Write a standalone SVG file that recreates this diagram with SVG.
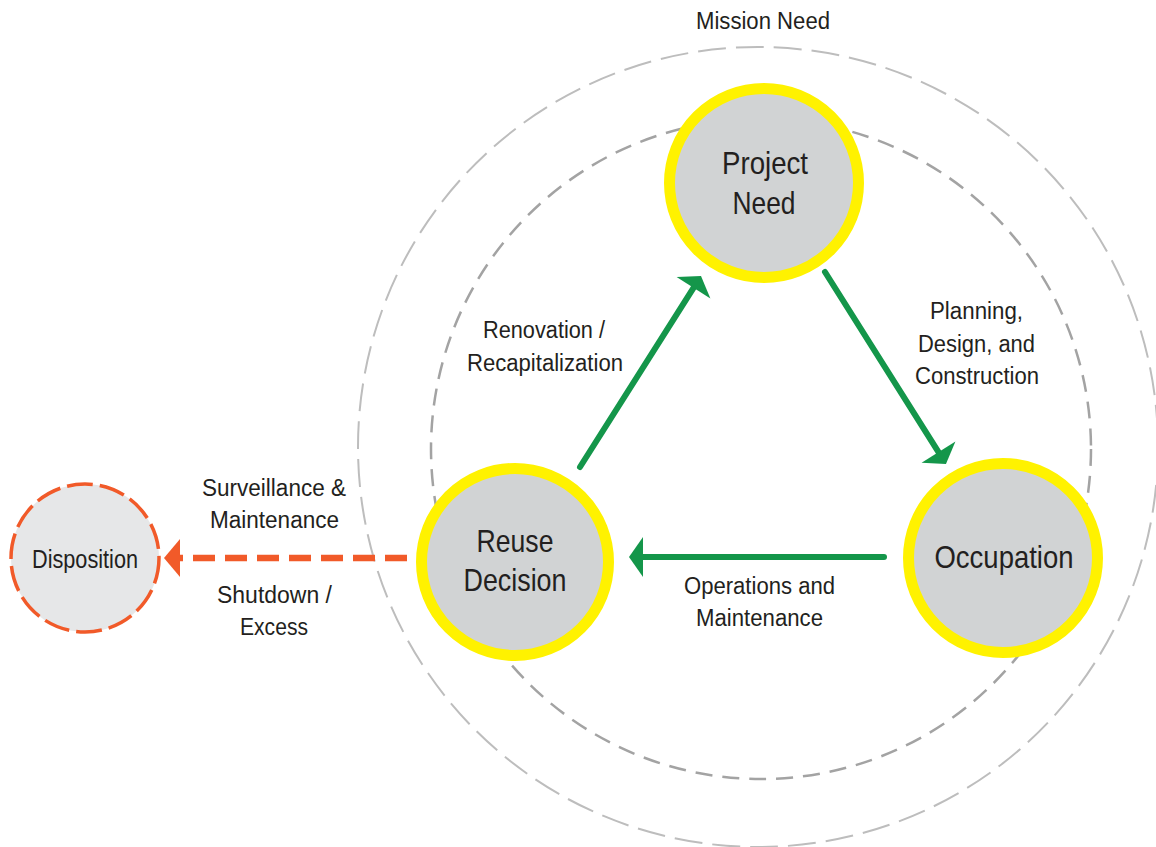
<svg xmlns="http://www.w3.org/2000/svg" width="1156" height="847" viewBox="0 0 1156 847">
  <defs>
    <style>
      text { font-family: "Liberation Sans", Arial, sans-serif; fill: #231f20; text-anchor: middle; }
      .lbl { font-size: 23px; }
      .nodeText { font-size: 30.5px; }
      .dispText { font-size: 26px; }
      .node { fill: #d1d3d4; stroke: #fff200; stroke-width: 11; }
      .disp { fill: #e6e7e8; stroke: #f15a29; stroke-width: 3.5; stroke-dasharray: 26 7; }
      .ringOuter { fill: none; stroke: #bdbdbd; stroke-width: 2; stroke-dasharray: 28 10; }
      .ringInner { fill: none; stroke: #a3a3a3; stroke-width: 2.5; stroke-dasharray: 17 10; }
      .flow { stroke: #14964a; stroke-width: 6; stroke-linecap: round; fill: none; marker-end: url(#greenHead); }
      .exit { stroke: #f15a29; stroke-width: 6.5; stroke-dasharray: 22 10; fill: none; marker-end: url(#orangeHead); }
    </style>
    <marker id="greenHead" markerUnits="userSpaceOnUse" markerWidth="16" markerHeight="42" refX="0" refY="21" orient="auto" overflow="visible">
      <path d="M0,1 L14,21 L0,41 Z" fill="#14964a"/>
    </marker>
    <marker id="orangeHead" markerUnits="userSpaceOnUse" markerWidth="18" markerHeight="40" refX="0" refY="20" orient="auto" overflow="visible">
      <path d="M0,1 L16,20 L0,39 Z" fill="#f15a29"/>
    </marker>
  </defs>

  <rect width="1156" height="847" fill="#ffffff"/>

  <g id="mission-need">
    <circle class="ringOuter" cx="758" cy="447" r="400"/>
    <text class="lbl" x="763" y="29" textLength="134" lengthAdjust="spacingAndGlyphs">Mission Need</text>
  </g>
  <g id="lifecycle-ring">
    <circle class="ringInner" cx="761" cy="449" r="330"/>
  </g>

  <g id="project-need">
    <circle class="node" cx="764" cy="183" r="94.5"/>
    <text class="nodeText" x="765" y="174" textLength="86" lengthAdjust="spacingAndGlyphs">Project</text>
    <text class="nodeText" x="764" y="214" textLength="63" lengthAdjust="spacingAndGlyphs">Need</text>
  </g>

  <g id="occupation">
    <circle class="node" cx="1003" cy="558" r="94.5"/>
    <text class="nodeText" x="1004" y="568" textLength="139" lengthAdjust="spacingAndGlyphs">Occupation</text>
  </g>

  <g id="reuse-decision">
    <circle class="node" cx="515" cy="562" r="93.5"/>
    <text class="nodeText" x="515" y="552" textLength="77" lengthAdjust="spacingAndGlyphs">Reuse</text>
    <text class="nodeText" x="515" y="591" textLength="103" lengthAdjust="spacingAndGlyphs">Decision</text>
  </g>

  <g id="disposition">
    <circle class="disp" cx="85" cy="558" r="74"/>
    <text class="dispText" x="85" y="568" textLength="106" lengthAdjust="spacingAndGlyphs">Disposition</text>
  </g>

  <g id="connectors">
    <g id="edge-renovation">
      <line class="flow" x1="580" y1="467" x2="693.5" y2="287.8"/>
      <text class="lbl" x="544" y="338" textLength="122" lengthAdjust="spacingAndGlyphs">Renovation /</text>
      <text class="lbl" x="545" y="371" textLength="156" lengthAdjust="spacingAndGlyphs">Recapitalization</text>
    </g>
    <g id="edge-planning">
      <line class="flow" x1="825" y1="272" x2="938.5" y2="452.2"/>
      <text class="lbl" x="976.5" y="319" textLength="93" lengthAdjust="spacingAndGlyphs">Planning,</text>
      <text class="lbl" x="976.5" y="352" textLength="117" lengthAdjust="spacingAndGlyphs">Design, and</text>
      <text class="lbl" x="977" y="384" textLength="124" lengthAdjust="spacingAndGlyphs">Construction</text>
    </g>
    <g id="edge-operations">
      <line class="flow" x1="884" y1="557" x2="643" y2="557"/>
      <text class="lbl" x="759.5" y="594" textLength="151" lengthAdjust="spacingAndGlyphs">Operations and</text>
      <text class="lbl" x="759.5" y="626" textLength="127" lengthAdjust="spacingAndGlyphs">Maintenance</text>
    </g>
    <g id="edge-disposition">
      <line class="exit" x1="407" y1="558" x2="180" y2="558"/>
      <text class="lbl" x="274" y="496" textLength="144" lengthAdjust="spacingAndGlyphs">Surveillance &amp;</text>
      <text class="lbl" x="274.5" y="528" textLength="129" lengthAdjust="spacingAndGlyphs">Maintenance</text>
      <text class="lbl" x="274.5" y="603" textLength="115" lengthAdjust="spacingAndGlyphs">Shutdown /</text>
      <text class="lbl" x="274" y="635" textLength="68" lengthAdjust="spacingAndGlyphs">Excess</text>
    </g>
  </g>
</svg>
